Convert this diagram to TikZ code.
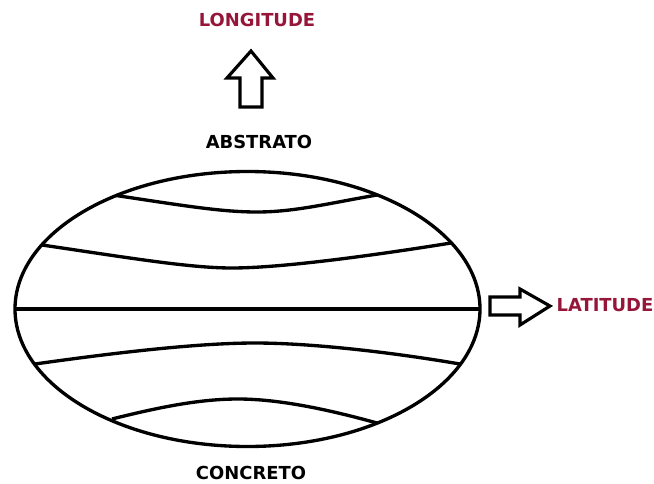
\documentclass[tikz,border=0pt]{standalone}
\usepackage{fontspec}
\setmainfont{DejaVu Sans}
\definecolor{vinho}{RGB}{150,22,58}

\begin{document}
\begin{tikzpicture}[x=0.02cm,y=-0.02cm,line width=1.9pt,line join=miter,
  rotulo/.style={font=\fontsize{10.2}{12}\selectfont\bfseries,inner sep=0pt},
  seta/.style={line width=1.8pt,fill=white}]
  \useasboundingbox (0,0) rectangle (654,484);
  % elipse e paralelos
  \draw (247.5,309) ellipse (232.5 and 137.5);
  \draw (116,195.5) .. controls (180,205) and (220,212) .. (257,212) .. controls (295,212) and (330,203) .. (377,195);
  \draw (42,245) .. controls (130,258) and (190,268) .. (232,268) .. controls (280,268) and (370,256) .. (451,243);
  \draw (15,309) -- (480,309);
  \draw (35,364) .. controls (120,352) and (200,343) .. (255,343) .. controls (310,343) and (390,352) .. (460,364);
  \draw (112,419) .. controls (160,407) and (200,399) .. (238,399) .. controls (280,399) and (330,410) .. (377,423);
  % setas
  \draw[seta] (240,107) -- (240,78) -- (227,78) -- (251,51) -- (273,78) -- (262,78) -- (262,107) -- cycle;
  \draw[seta] (490,297) -- (520,297) -- (520,289) -- (550,306) -- (520,325) -- (520,315) -- (490,315) -- cycle;
  % textos
  \node[rotulo,text=vinho] (longitude) at (257,20) {LONGITUDE};
  \node[rotulo] (abstrato) at (259,142) {ABSTRATO};
  \node[rotulo,text=vinho,anchor=west] (latitude) at (555,305) {LATITUDE};
  \node[rotulo] (concreto) at (251,473) {CONCRETO};
\end{tikzpicture}
\end{document}
